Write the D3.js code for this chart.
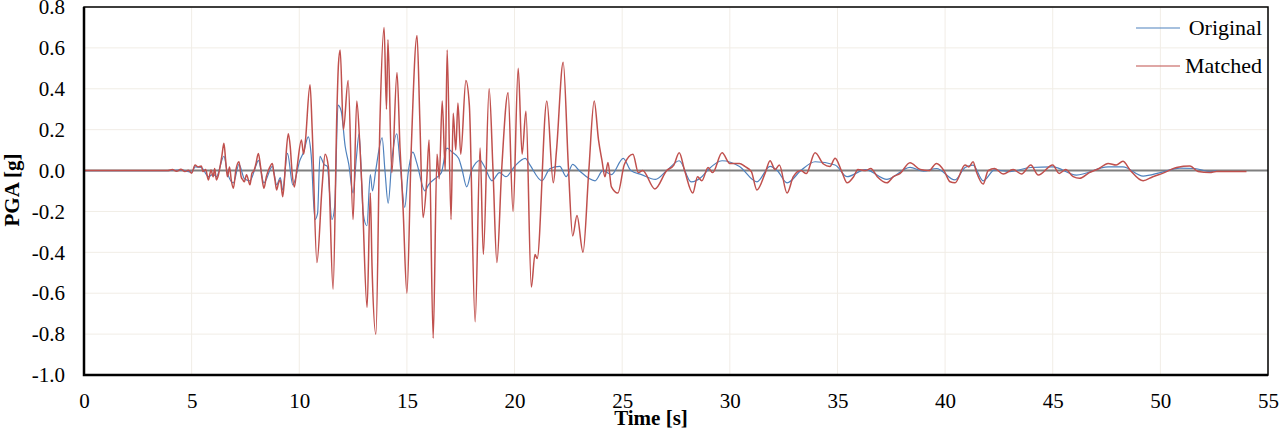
<!DOCTYPE html>
<html>
<head>
<meta charset="utf-8">
<script src="https://cdn.jsdelivr.net/npm/d3@7"></script>
<style>
  body { margin: 0; background: #fff; }
  svg { display: block; }
  text { font-family: "Liberation Serif", "Times New Roman", serif; fill: #000; }
</style>
</head>
<body>
<svg id="chart" width="1280" height="430"></svg>
<script>
// time [s], acceleration [g] (peaks / troughs)
var matched = [
  [0, 0], [3.9, 0], [4.1, 0.005], [4.3, -0.004], [4.5, 0.006], [4.69, -0.005], [4.85, 0.002],
  [5.0, -0.013], [5.16, 0.027], [5.3, 0.018], [5.45, 0.022], [5.53, -0.005], [5.65, 0.005],
  [5.78, -0.046], [5.9, 0.003], [6.0, -0.03], [6.07, 0.01], [6.15, -0.046], [6.22, -0.03],
  [6.4, 0.068], [6.5, 0.133], [6.58, 0.05], [6.66, -0.03], [6.76, 0.018], [6.84, -0.046],
  [6.94, -0.087], [7.05, 0.0], [7.2, 0.043], [7.3, -0.03], [7.38, -0.046], [7.45, -0.055],
  [7.55, -0.02], [7.71, -0.07], [7.8, -0.013], [7.9, 0.0], [7.99, 0.035], [8.1, 0.084],
  [8.2, 0.02], [8.28, -0.046], [8.36, -0.087], [8.47, -0.03], [8.6, 0.01], [8.75, 0.035],
  [8.82, -0.013], [8.87, -0.046], [8.95, -0.095], [9.03, -0.063], [9.12, -0.046], [9.23, -0.128],
  [9.31, -0.046], [9.38, 0.068], [9.49, 0.18], [9.58, 0.117], [9.67, -0.013], [9.77, -0.08],
  [9.88, 0.0], [10.1, 0.15], [10.2, 0.08], [10.28, 0.14],
  [10.5, 0.42], [10.6, 0.2], [10.82, -0.45], [11.06, -0.08], [11.2, 0.08], [11.35, 0.02],
  [11.57, -0.58], [11.75, 0.3], [11.82, 0.52], [11.9, 0.59], [12.05, 0.2], [12.27, 0.44],
  [12.5, -0.24], [12.67, 0.34], [12.82, 0.11], [12.92, -0.1], [13.15, -0.67], [13.3, -0.11],
  [13.38, -0.47], [13.56, -0.8], [13.75, 0.25], [13.94, 0.7], [14.05, 0.3], [14.12, 0.64],
  [14.3, -0.01], [14.54, 0.48], [14.68, 0.11], [14.82, -0.18], [15.0, -0.6], [15.2, 0.1],
  [15.47, 0.66], [15.6, 0.25], [15.75, -0.23], [15.92, -0.05], [16.03, 0.15], [16.22, -0.82],
  [16.4, 0.08], [16.5, -0.04], [16.64, 0.34], [16.78, 0.0], [16.87, 0.59], [17.05, -0.24],
  [17.15, 0.28], [17.27, 0.1], [17.37, 0.33], [17.5, 0.08], [17.74, 0.44], [17.9, 0.32],
  [18.17, -0.74], [18.4, 0.11], [18.55, -0.41], [18.82, 0.4], [19.0, 0.0], [19.18, -0.45],
  [19.4, 0.0], [19.7, 0.38], [19.93, -0.2], [20.17, 0.5], [20.35, 0.08], [20.53, 0.29],
  [20.78, -0.57], [20.95, -0.41], [21.05, -0.43], [21.5, 0.34], [21.8, -0.06], [21.95, 0.1],
  [22.26, 0.53], [22.5, 0.02], [22.7, -0.32], [22.9, -0.22], [23.18, -0.4], [23.45, 0.0],
  [23.7, 0.34], [23.9, 0.15], [24.06, 0.05], [24.2, -0.03], [24.34, 0.04], [24.5, -0.08],
  [24.8, -0.11], [25.1, 0.03], [25.5, 0.08], [25.75, -0.01], [25.95, 0.0], [26.52, -0.09],
  [27.07, 0], [27.4, 0.027], [27.65, 0.087], [27.9, 0], [28.28, -0.11], [28.5, -0.03],
  [28.7, -0.05], [28.99, 0.015], [29.2, -0.01], [29.64, 0.087], [30.0, 0.035], [30.45, 0.035],
  [30.7, 0.02], [31.0, -0.005], [31.26, -0.095], [31.65, -0.01], [31.87, 0.048], [32.1, 0.005],
  [32.3, 0.027], [32.66, -0.11], [32.95, -0.03], [33.3, 0.0], [33.55, -0.015], [33.96, 0.087],
  [34.35, 0.032], [34.65, 0.02], [34.89, 0.06], [35.2, -0.005], [35.45, -0.06], [35.75, -0.03],
  [35.95, 0.005], [36.3, 0.0], [36.55, 0.01], [36.85, -0.03], [37.3, -0.06], [37.6, -0.03],
  [37.9, -0.015], [38.37, 0.038], [38.85, 0.005], [39.25, 0.0], [39.6, 0.035], [39.95, 0.0],
  [40.23, -0.055], [40.46, -0.06], [40.93, 0.027], [41.1, 0.018], [41.3, 0.043], [41.45, -0.005],
  [41.77, -0.066], [42.0, 0.0], [42.3, 0.01], [42.7, -0.017], [43.16, 0.005], [43.55, -0.017],
  [43.98, 0.027], [44.33, -0.022], [45.0, 0.027], [45.3, -0.014], [45.6, 0.005], [45.95, -0.03],
  [46.25, -0.038], [46.7, -0.01], [47.15, 0.01], [47.57, 0.035], [47.95, 0.027], [48.26, 0.045],
  [48.6, 0.002], [49.2, -0.05], [49.65, -0.03], [50.1, -0.014], [50.75, 0.015], [51.38, 0.022],
  [51.75, -0.005], [52.3, -0.01], [52.6, -0.005], [54.0, -0.005]
];

var original = [
  [0, 0], [3.9, 0], [4.5, 0.003], [5.0, -0.008], [5.16, 0.018], [5.45, 0.015], [5.78, -0.03],
  [6.0, -0.018], [6.15, -0.03], [6.5, 0.07], [6.66, -0.01], [6.94, -0.06], [7.2, 0.03],
  [7.45, -0.04], [7.71, -0.05], [7.99, 0.025], [8.1, 0.05], [8.36, -0.06], [8.75, 0.02],
  [8.95, -0.07], [9.12, -0.035], [9.23, -0.095], [9.45, 0.084],
  [9.7, -0.07], [10.03, 0.05], [10.2, 0.09], [10.42, 0.165], [10.55, 0.08], [10.73, -0.24],
  [10.85, -0.21], [10.96, 0.07], [11.15, 0.03], [11.3, 0.02], [11.52, -0.24], [11.65, -0.17],
  [11.8, 0.32], [11.95, 0.29], [12.13, 0.12], [12.3, 0.03], [12.5, -0.11], [12.65, 0.06],
  [12.78, 0.18], [12.97, -0.21], [13.14, -0.27], [13.3, -0.02], [13.4, -0.1], [13.55, 0.0],
  [13.85, 0.16], [13.98, 0.0], [14.13, -0.16], [14.3, 0.05], [14.53, 0.18], [14.68, 0.04],
  [14.9, -0.18], [15.05, -0.02], [15.28, 0.09], [15.45, 0.04], [15.84, -0.1], [16.0, -0.07],
  [16.3, -0.04], [16.6, -0.01], [16.86, 0.11], [17.1, 0.09], [17.4, 0.06], [17.55, 0.01],
  [17.78, -0.08], [18.0, 0.0], [18.4, 0.05], [18.6, 0.02], [18.95, -0.05], [19.3, -0.01],
  [19.6, -0.03], [20.0, 0.02], [20.5, 0.06], [20.7, 0.03], [21.27, -0.05], [21.65, 0.01],
  [22.1, 0.02], [22.4, -0.03], [22.7, 0.03], [23.0, 0.0], [23.74, -0.05], [24.1, 0.0],
  [24.5, -0.02], [25.05, 0.06], [25.4, 0.0], [25.9, -0.02], [26.55, -0.043], [27.07, 0],
  [27.65, 0.048], [28.2, -0.055], [28.7, -0.03], [29.0, 0.005], [29.64, 0.048], [30.45, 0.02],
  [31.26, -0.055], [31.87, 0.02], [32.2, 0.0], [32.66, -0.06], [33.3, 0.0], [33.96, 0.043],
  [34.89, 0.027], [35.45, -0.03], [36.3, 0.005], [37.3, -0.043], [38.37, 0.016], [39.0, -0.003],
  [39.6, 0.01], [40.46, -0.046], [40.93, 0.015], [41.3, 0.027], [41.77, -0.05], [42.3, 0.003],
  [43.0, -0.005], [43.98, 0.015], [45.0, 0.018], [46.1, -0.022], [47.57, 0.018], [48.26, 0.018],
  [49.2, -0.027], [50.0, -0.01], [50.9, 0.012], [51.6, 0.01], [52.3, -0.005], [52.6, 0.0]
];

var xTicks = [0, 5, 10, 15, 20, 25, 30, 35, 40, 45, 50, 55];
var yTicks = [0.8, 0.6, 0.4, 0.2, 0.0, -0.2, -0.4, -0.6, -0.8, -1.0];
var seriesNames = ["Original", "Matched"];
var seriesColors = ["#4f81bd", "#c0504d"];
var seriesWidths = [1.2, 1.5];

const margin = { top: 7, right: 12, bottom: 55, left: 84 };
const width = 1280;
const height = 430;

var svg = d3.select("#chart");

var x = d3.scaleLinear().domain([0, 55]).range([margin.left, width - margin.right]);
var y = d3.scaleLinear().domain([-1.0, 0.8]).range([height - margin.bottom, margin.top]);

// gridlines
svg.append("g")
  .selectAll("line")
  .data(yTicks)
  .enter()
  .append("line")
  .attr("x1", x(0)).attr("x2", x(55))
  .attr("y1", (d) => y(d)).attr("y2", (d) => y(d))
  .attr("stroke", "#f1ede6")
  .attr("stroke-width", 1);

svg.append("g")
  .selectAll("line")
  .data(xTicks)
  .enter()
  .append("line")
  .attr("x1", (d) => x(d)).attr("x2", (d) => x(d))
  .attr("y1", y(0.8)).attr("y2", y(-1.0))
  .attr("stroke", "#f1ede6")
  .attr("stroke-width", 1);

// zero line
svg.append("line")
  .attr("x1", x(0)).attr("x2", x(55))
  .attr("y1", y(0)).attr("y2", y(0))
  .attr("stroke", "#7f7f7f")
  .attr("stroke-width", 2);

var line = d3.line()
  .x((d) => x(d[0]))
  .y((d) => y(d[1]))
  .curve(d3.curveMonotoneX);

[original, matched].forEach(function (series, i) {
  svg.append("path")
    .datum(series)
    .attr("fill", "none")
    .attr("stroke", seriesColors[i])
    .attr("stroke-width", seriesWidths[i])
    .attr("stroke-linejoin", "round")
    .attr("d", line);
});

// frame
svg.append("rect")
  .attr("x", x(0)).attr("y", y(0.8))
  .attr("width", x(55) - x(0)).attr("height", y(-1.0) - y(0.8))
  .attr("fill", "none")
  .attr("stroke", "#000")
  .attr("stroke-width", 1.5);
svg.append("path")
  .attr("d", `M${x(0)},${y(0.8)}V${y(-1.0)}H${x(55)}`)
  .attr("fill", "none")
  .attr("stroke", "#000")
  .attr("stroke-width", 2.5);

// axes (labels only, no tick marks)
var yAxis = d3.axisLeft(y).tickValues(yTicks)
  .tickFormat((d) => d.toFixed(1))
  .tickSize(0).tickPadding(19);
var gy = svg.append("g").attr("transform", `translate(${margin.left},0)`).call(yAxis);
gy.select(".domain").remove();
gy.selectAll("text").style("font-size", "21px").attr("fill", "#000")
  .attr("font-family", "Liberation Serif, Times New Roman, serif");

var xAxis = d3.axisBottom(x).tickValues(xTicks).tickSize(0).tickPadding(18);
var gx = svg.append("g").attr("transform", `translate(0,${height - margin.bottom})`).call(xAxis);
gx.select(".domain").remove();
gx.selectAll("text").style("font-size", "21px").attr("fill", "#000")
  .attr("font-family", "Liberation Serif, Times New Roman, serif");

// axis titles
svg.append("text")
  .attr("x", 651)
  .attr("y", 425)
  .attr("text-anchor", "middle")
  .style("font-size", "21px")
  .style("font-weight", "bold")
  .text("Time [s]");

svg.append("text")
  .attr("transform", "translate(19,190) rotate(-90)")
  .attr("text-anchor", "middle")
  .style("font-size", "21px")
  .style("font-weight", "bold")
  .text("PGA [g]");

// legend
var legend = svg.append("g");
seriesNames.forEach(function (name, i) {
  var ly = 28 + i * 38;
  legend.append("line")
    .attr("x1", 1136).attr("x2", 1180)
    .attr("y1", ly).attr("y2", ly)
    .attr("stroke", seriesColors[i])
    .attr("stroke-width", 1.2);
  legend.append("text")
    .attr("x", 1262)
    .attr("y", ly + 7)
    .attr("text-anchor", "end")
    .style("font-size", "22px")
    .text(name);
});
</script>
</body>
</html>
